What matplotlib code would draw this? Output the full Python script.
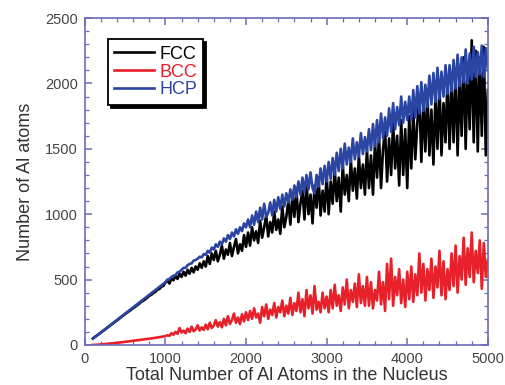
import numpy as np
import matplotlib
matplotlib.use('Agg')
import matplotlib.pyplot as plt
from matplotlib.ticker import MultipleLocator

# Nucleus size (total atoms), sampled every 25 atoms
nucleus_size = np.arange(100, 5001, 25)

# Number of Al atoms, per structure
fcc_al = [50, 62, 72, 84, 95, 107, 118, 130, 142, 153, 165, 176, 188, 200, 212, 224, 236, 248, 258,
          270, 282, 292, 305, 316, 330, 338, 350, 362, 376, 384, 398, 406, 424, 428, 446, 452, 478,
          490, 470, 510, 495, 530, 505, 545, 520, 560, 530, 575, 545, 590, 555, 600, 575, 625, 590, 640, 600,
          680, 620, 700, 650, 720, 640, 690, 760, 660, 730, 690, 780, 680, 750, 810, 700, 770, 720, 840, 750,
          860, 760, 900, 800, 870, 780, 950, 820, 900, 990, 830, 940, 860, 1020, 880, 960, 850, 1060, 900, 980,
          1100, 920, 1150, 980, 1200, 940, 1080, 1180, 960, 1250, 1000, 1150, 930, 1220, 1050, 1280, 990, 1180, 1020, 1300,
          1000, 1250, 1080, 1350, 1100, 1280, 1020, 1380, 1150, 1300, 1100, 1420, 1180, 1350, 1120, 1450, 1200, 1380, 1150, 1500,
          1200, 1450, 1150, 1550, 1280, 1600, 1200, 1500, 1650, 1250, 1580, 1300, 1700, 1350, 1600, 1220, 1720, 1300, 1650, 1200,
          1750, 1350, 1800, 1420, 1700, 1900, 1400, 1850, 1480, 1950, 1450, 1800, 1380, 1900, 1500, 2000, 1450, 1850, 1550, 2050,
          1500, 2000, 1550, 2100, 1450, 2050, 1600, 2200, 1500, 2150, 1650, 2330, 1550, 2250, 1480, 2200, 1600, 2280, 1450, 1950]

bcc_al = [0, 1, 2, 3, 4, 6, 7, 9, 10, 12, 13, 15, 17, 18, 20, 22, 24, 26, 28,
          30, 32, 34, 36, 38, 40, 42, 44, 46, 48, 50, 52, 55, 57, 60, 62, 65, 68,
          75, 70, 90, 78, 100, 85, 130, 95, 110, 90, 125, 100, 140, 105, 120, 150, 110, 135, 115, 155,
          120, 170, 130, 150, 190, 140, 175, 135, 200, 150, 220, 160, 190, 240, 170, 210, 160, 235, 180, 250,
          190, 260, 200, 280, 210, 240, 170, 290, 220, 310, 200, 270, 230, 320, 210, 290, 250, 340, 220, 300,
          240, 360, 230, 320, 260, 400, 250, 350, 220, 420, 280, 380, 240, 450, 270, 330, 250, 400, 280, 370,
          250, 420, 280, 460, 300, 380, 260, 440, 310, 500, 280, 420, 330, 470, 290, 540, 320, 450, 300, 520,
          300, 480, 280, 420, 340, 560, 310, 480, 260, 620, 350, 660, 300, 520, 380, 580, 320, 500, 290, 560,
          350, 600, 330, 540, 380, 700, 400, 620, 340, 580, 420, 660, 360, 600, 440, 720, 380, 640, 350, 580,
          420, 700, 450, 760, 400, 680, 500, 820, 460, 740, 520, 860, 480, 720, 550, 800, 430, 780, 520, 650]

hcp_al = [48, 60, 72, 84, 96, 108, 120, 132, 144, 156, 168, 180, 192, 204, 216, 228, 240, 252, 264,
          276, 288, 300, 312, 324, 336, 348, 360, 372, 384, 396, 408, 420, 432, 444, 456, 468, 480,
          500, 505, 520, 530, 535, 555, 560, 575, 590, 590, 610, 620, 625, 645, 650, 660, 675, 670, 695, 690,
          720, 705, 745, 730, 770, 750, 790, 770, 815, 790, 840, 810, 860, 830, 885, 850, 900, 870, 930, 900,
          960, 900, 990, 920, 1020, 940, 1050, 960, 1080, 980, 1010, 1090, 990, 1110, 1020, 1130, 1040, 1150, 1060, 1160,
          1090, 1190, 1110, 1220, 1130, 1250, 1150, 1280, 1170, 1300, 1190, 1320, 1200, 1160, 1300, 1210, 1350, 1230, 1370, 1250,
          1400, 1270, 1430, 1300, 1470, 1330, 1500, 1350, 1540, 1380, 1510, 1400, 1580, 1420, 1550, 1440, 1620, 1460, 1590, 1480,
          1650, 1490, 1690, 1520, 1720, 1550, 1770, 1580, 1740, 1600, 1810, 1630, 1850, 1650, 1820, 1680, 1900, 1700, 1860, 1720,
          1900, 1720, 1950, 1740, 1980, 1770, 2010, 1790, 1990, 1820, 2060, 1840, 2080, 1860, 2120, 1880, 2090, 1900, 2140, 1920,
          2140, 1940, 2180, 1960, 2220, 1980, 2200, 2010, 2260, 2000, 2230, 2030, 2280, 2050, 2240, 2070, 2290, 2050, 2270, 2100]

plt.rcParams['font.family'] = ['Liberation Sans', 'DejaVu Sans']

frame_col = '#6b6bb8'
text_col = '#444444'

fig = plt.figure(figsize=(5.05, 3.85), dpi=100)
ax = fig.add_axes([0.168, 0.104, 0.798, 0.849])

ax.plot(nucleus_size, fcc_al, color='black', lw=1.9, label='FCC')
ax.plot(nucleus_size, bcc_al, color='#e8202a', lw=1.9, label='BCC')
ax.plot(nucleus_size, hcp_al, color='#2b45a3', lw=1.9, label='HCP')

ax.set_xlim(0, 5000)
ax.set_ylim(0, 2500)
ax.xaxis.set_major_locator(MultipleLocator(1000))
ax.xaxis.set_minor_locator(MultipleLocator(200))
ax.yaxis.set_major_locator(MultipleLocator(500))
ax.yaxis.set_minor_locator(MultipleLocator(100))

for sp in ax.spines.values():
    sp.set_color(frame_col)
    sp.set_linewidth(1.2)
ax.tick_params(which='both', direction='in', top=True, right=True,
               color=frame_col, labelcolor=text_col, labelsize=10.5, pad=5)
ax.tick_params(which='major', length=5, width=1.1)
ax.tick_params(which='minor', length=3, width=0.9)

ax.set_xlabel('Total Number of Al Atoms in the Nucleus', fontsize=13, color='#333333', labelpad=1)
ax.set_ylabel('Number of Al atoms', fontsize=13, color='#333333', labelpad=8)

leg = ax.legend(loc='upper left', bbox_to_anchor=(0.057, 0.935), borderaxespad=0,
                fontsize=13, fancybox=False, edgecolor='black', framealpha=1,
                handlelength=2.2, handletextpad=0.3, labelspacing=0.05, borderpad=0.35,
                labelcolor='linecolor',
                shadow={'color': 'black', 'alpha': 1})
leg.get_frame().set_linewidth(1.3)

plt.savefig('out.png', dpi=100)
